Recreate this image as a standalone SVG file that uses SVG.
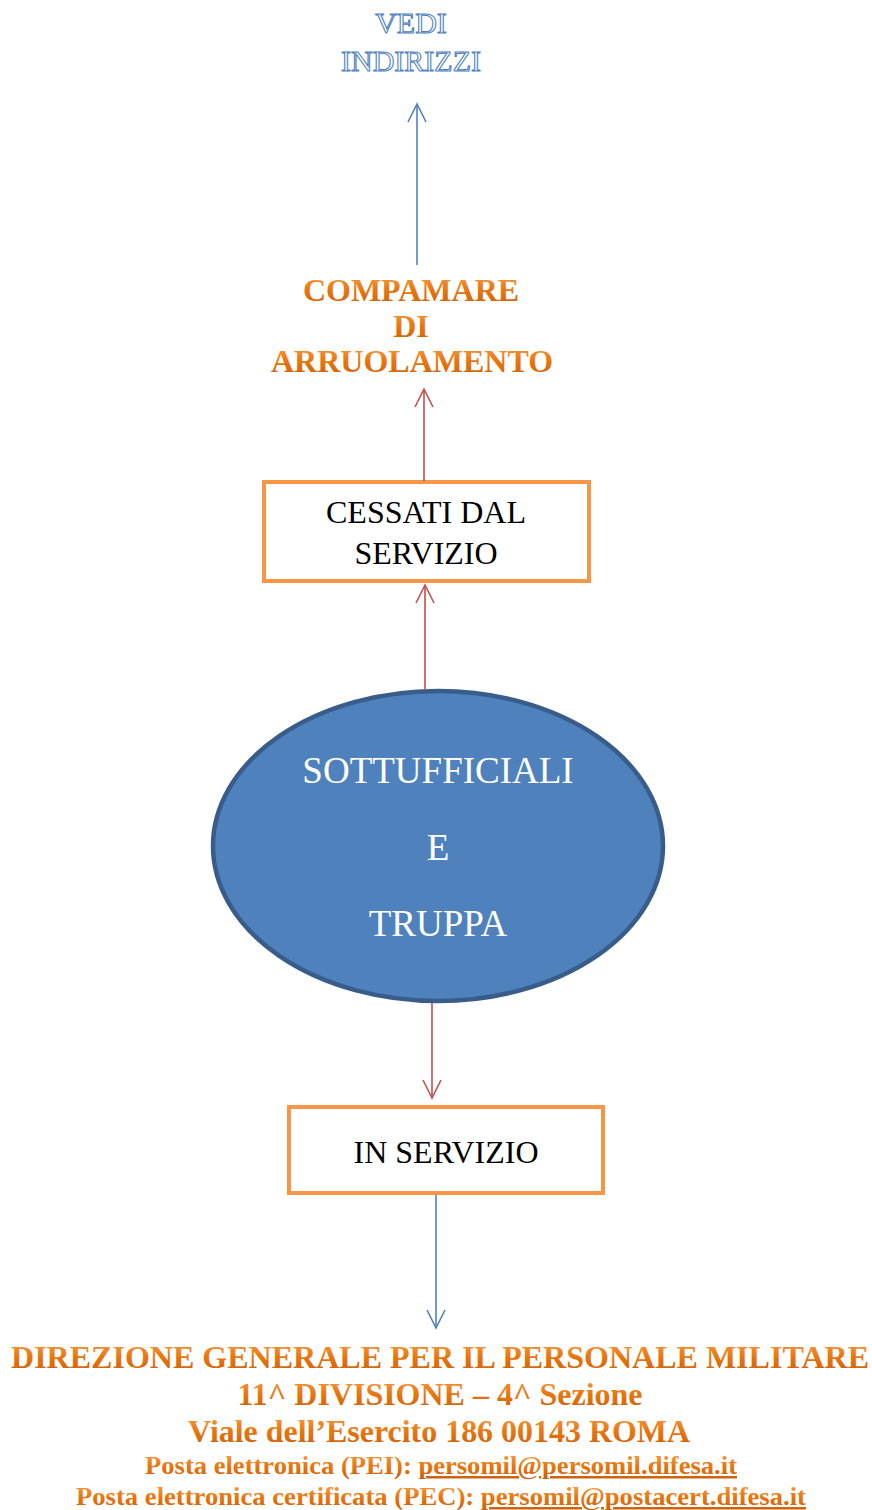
<svg xmlns="http://www.w3.org/2000/svg" width="872" height="1510" viewBox="0 0 872 1510">
<defs>
<linearGradient id="og" x1="0" y1="0" x2="0" y2="1">
<stop offset="0" stop-color="#f7a24e"/>
<stop offset="0.5" stop-color="#e8760f"/>
<stop offset="1" stop-color="#cc5d0a"/>
</linearGradient>
<marker id="ar" markerUnits="userSpaceOnUse" markerWidth="22" markerHeight="22" viewBox="0 0 22 22" refX="19" refY="11" orient="auto">
<path d="M1,2 L19,11 L1,20" fill="none" stroke="#c0504d" stroke-width="1.6"/>
</marker>
<marker id="ab" markerUnits="userSpaceOnUse" markerWidth="22" markerHeight="22" viewBox="0 0 22 22" refX="19" refY="11" orient="auto">
<path d="M1,2 L19,11 L1,20" fill="none" stroke="#4f81bd" stroke-width="1.6"/>
</marker>
</defs>
<style>
.outl{font-family:"Liberation Serif","Times New Roman",serif;font-size:30px;fill:#ffffff;stroke:#4f81bd;stroke-width:1.1;text-anchor:middle}
.org{font-family:"Liberation Serif","Times New Roman",serif;font-weight:bold;fill:url(#og);text-anchor:middle}
.box{fill:#ffffff;stroke:#f79646;stroke-width:4}
.bt{font-family:"Liberation Serif","Times New Roman",serif;font-size:32px;fill:#000000;text-anchor:middle}
.et{font-family:"Liberation Serif","Times New Roman",serif;font-size:37px;fill:#ffffff;text-anchor:middle}
.cr{fill:none;stroke:#c0504d;stroke-width:1.6}
.cb{fill:none;stroke:#4f81bd;stroke-width:1.6}
</style>
<g id="vedi-indirizzi">
<text class="outl" x="411" y="33">VEDI</text>
<text class="outl" x="411" y="71">INDIRIZZI</text>
</g>
<g id="compamare">
<text class="org" font-size="32" x="411" y="301">COMPAMARE</text>
<text class="org" font-size="32" x="411" y="337">DI</text>
<text class="org" font-size="32" x="412" y="372">ARRUOLAMENTO</text>
</g>
<g id="cessati">
<rect class="box" x="264" y="482" width="325" height="99"/>
<text class="bt" x="426" y="523">CESSATI DAL</text>
<text class="bt" x="426" y="564">SERVIZIO</text>
</g>
<g id="sottufficiali">
<ellipse cx="438" cy="846" rx="225" ry="155" fill="#4f81bd" stroke="#385d8a" stroke-width="4.5"/>
<text class="et" x="438" y="783">SOTTUFFICIALI</text>
<text class="et" x="438" y="860">E</text>
<text class="et" x="438" y="936">TRUPPA</text>
</g>
<g id="in-servizio">
<rect class="box" x="289" y="1107" width="314" height="86"/>
<text class="bt" x="446" y="1163">IN SERVIZIO</text>
</g>
<g id="direzione">
<text class="org" font-size="32" x="440" y="1368" textLength="858" lengthAdjust="spacingAndGlyphs">DIREZIONE GENERALE PER IL PERSONALE MILITARE</text>
<text class="org" font-size="32" x="440" y="1405" textLength="405" lengthAdjust="spacingAndGlyphs">11^ DIVISIONE – 4^ Sezione</text>
<text class="org" font-size="32" x="439" y="1442" textLength="502" lengthAdjust="spacingAndGlyphs">Viale dell’Esercito 186 00143 ROMA</text>
<text class="org" font-size="25" x="441" y="1474" textLength="592" lengthAdjust="spacingAndGlyphs">Posta elettronica (PEI): <tspan text-decoration="underline">persomil@persomil.difesa.it</tspan></text>
<text class="org" font-size="25" x="441" y="1505" textLength="730" lengthAdjust="spacingAndGlyphs">Posta elettronica certificata (PEC): <tspan text-decoration="underline">persomil@postacert.difesa.it</tspan></text>
</g>
<g id="connectors">
<line class="cb" x1="417" y1="265" x2="417" y2="104" marker-end="url(#ab)"/>
<line class="cr" x1="424" y1="481" x2="424" y2="389" marker-end="url(#ar)"/>
<line class="cr" x1="425" y1="690" x2="425" y2="585" marker-end="url(#ar)"/>
<line class="cr" x1="432" y1="1003" x2="432" y2="1098" marker-end="url(#ar)"/>
<line class="cb" x1="436" y1="1195" x2="436" y2="1328" marker-end="url(#ab)"/>
</g>
</svg>
